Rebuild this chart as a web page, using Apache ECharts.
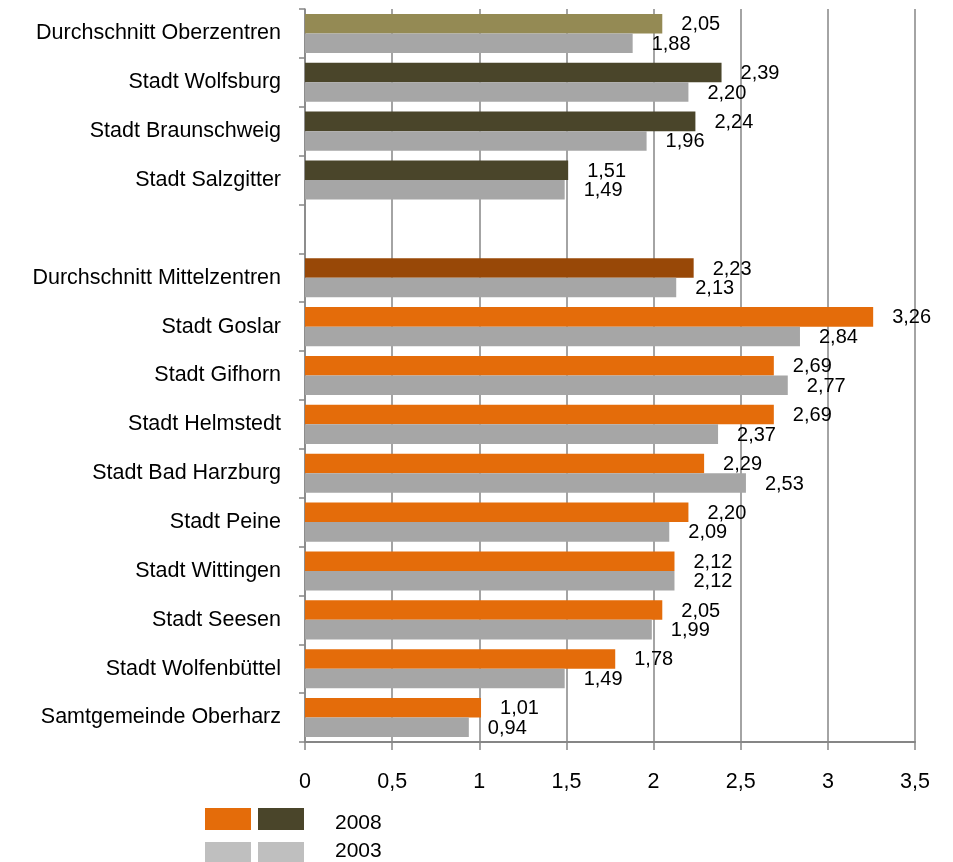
<!DOCTYPE html>
<html>
<head>
<meta charset="utf-8">
<script src="https://cdn.jsdelivr.net/npm/echarts@6/dist/echarts.min.js"></script>
<style>
  html, body { margin: 0; padding: 0; background: #fff; }
  #chart { width: 953px; height: 862px; }
</style>
</head>
<body>
<div id="chart"></div>
<script>
// Kategorien von oben nach unten (leerer Eintrag trennt Ober- und Mittelzentren)
const categories = [
  'Durchschnitt Oberzentren',
  'Stadt Wolfsburg',
  'Stadt Braunschweig',
  'Stadt Salzgitter',
  '',
  'Durchschnitt Mittelzentren',
  'Stadt Goslar',
  'Stadt Gifhorn',
  'Stadt Helmstedt',
  'Stadt Bad Harzburg',
  'Stadt Peine',
  'Stadt Wittingen',
  'Stadt Seesen',
  'Stadt Wolfenbüttel',
  'Samtgemeinde Oberharz'
];

const values2008 = [2.05, 2.39, 2.24, 1.51, null, 2.23, 3.26, 2.69, 2.69, 2.29, 2.20, 2.12, 2.05, 1.78, 1.01];
const values2003 = [1.88, 2.20, 1.96, 1.49, null, 2.13, 2.84, 2.77, 2.37, 2.53, 2.09, 2.12, 1.99, 1.49, 0.94];

// Balkenfarbe 2008 je Gruppe
const colorAvgOber = '#948a54';
const colorOber = '#4a452a';
const colorAvgMittel = '#984807';
const colorMittel = '#e46c0a';
const color2003 = '#a6a6a6';
const colorLegend2003 = '#bfbfbf';

const colors2008 = categories.map((c, i) => {
  if (i === 0) return colorAvgOber;
  if (i < 5) return colorOber;
  if (i === 5) return colorAvgMittel;
  return colorMittel;
});

const xTicks = { min: 0, max: 3.5, step: 0.5 };

const FONT = 'Liberation Sans';
const fmt = v => String(v).replace('.', ',');
const fmtVal = v => v.toFixed(2).replace('.', ',');

const chart = echarts.init(document.getElementById('chart'), null, { renderer: 'canvas' });

const labelCommon = {
  show: true,
  position: 'right',
  distance: 19,
  fontFamily: FONT,
  fontSize: 20,
  color: '#000',
  offset: [0, 1],
  formatter: p => (p.value == null ? '' : fmtVal(p.value))
};

chart.setOption({
  animation: false,
  backgroundColor: '#fff',
  grid: {
    left: 305, right: 38, top: 9, bottom: 120,
    outerBoundsMode: 'none'
  },
  xAxis: {
    type: 'value',
    min: xTicks.min,
    max: xTicks.max,
    interval: xTicks.step,
    axisLine: { show: true, lineStyle: { color: '#868686', width: 2 } },
    axisTick: { show: true, length: 8, lineStyle: { color: '#868686', width: 1.5 } },
    splitLine: { show: true, lineStyle: { color: '#868686', width: 1.5 } },
    axisLabel: {
      margin: 29,
      fontFamily: FONT,
      fontSize: 21.5,
      color: '#000',
      formatter: v => fmt(v)
    }
  },
  yAxis: {
    type: 'category',
    data: categories,
    inverse: true,
    axisLine: { show: true, lineStyle: { color: '#868686', width: 1.5 } },
    axisTick: { show: true, length: 6, lineStyle: { color: '#868686', width: 1.5 } },
    splitLine: { show: false },
    axisLabel: {
      margin: 24,
      fontFamily: FONT,
      fontSize: 21.5,
      color: '#000',
      interval: 0
    }
  },
  series: [
    {
      name: '2008',
      type: 'bar',
      barCategoryGap: '20%',
      barGap: '0%',
      data: values2008.map((v, i) => ({ value: v, itemStyle: { color: colors2008[i] } })),
      label: labelCommon
    },
    {
      name: '2003',
      type: 'bar',
      barCategoryGap: '20%',
      barGap: '0%',
      itemStyle: { color: color2003 },
      data: values2003,
      label: labelCommon
    }
  ],
  graphic: [
    { type: 'rect', left: 205, top: 808, shape: { width: 46, height: 22 }, style: { fill: colorMittel } },
    { type: 'rect', left: 258, top: 808, shape: { width: 46, height: 22 }, style: { fill: colorOber } },
    { type: 'text', left: 335, top: 813, style: { text: '2008', font: '21px "' + FONT + '"', fill: '#000' } },
    { type: 'rect', left: 205, top: 842, shape: { width: 46, height: 22 }, style: { fill: colorLegend2003 } },
    { type: 'rect', left: 258, top: 842, shape: { width: 46, height: 22 }, style: { fill: colorLegend2003 } },
    { type: 'text', left: 335, top: 841, style: { text: '2003', font: '21px "' + FONT + '"', fill: '#000' } }
  ]
});
</script>
</body>
</html>
